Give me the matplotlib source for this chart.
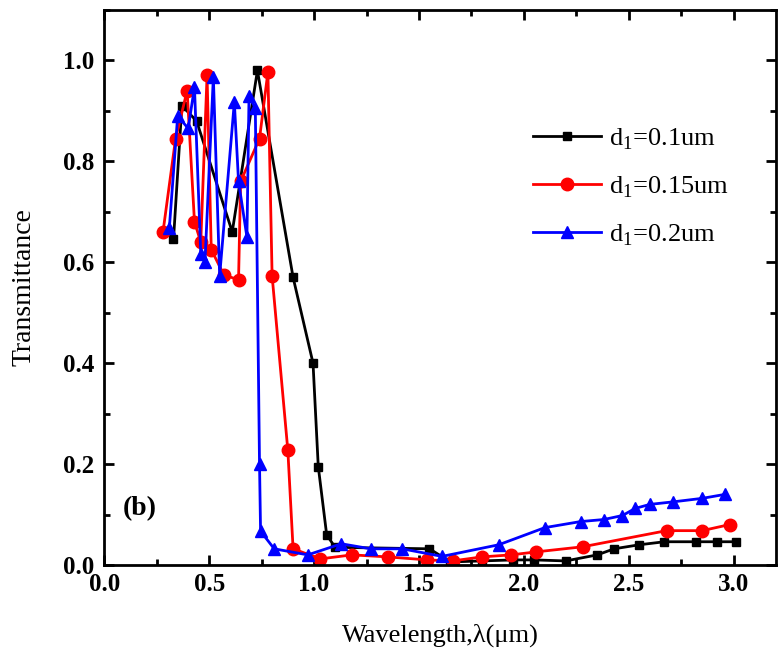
import matplotlib
matplotlib.use("Agg")
import matplotlib.pyplot as plt
from matplotlib.ticker import MultipleLocator

plt.rcParams['font.family'] = ['Liberation Serif', 'DejaVu Serif']
plt.rcParams['mathtext.fontset'] = 'custom'
plt.rcParams['mathtext.rm'] = 'Liberation Serif'

# d1 = 0.1 um (black squares)
x_01 = [0.33, 0.37, 0.44, 0.61, 0.73, 0.90, 0.995, 1.02, 1.06, 1.10, 1.55, 1.65,
        1.80, 1.95, 2.05, 2.20, 2.35, 2.43, 2.55, 2.67, 2.82, 2.92, 3.01]
y_01 = [0.645, 0.91, 0.88, 0.66, 0.98, 0.57, 0.40, 0.195, 0.06, 0.035, 0.032, 0.006,
        0.008, 0.01, 0.01, 0.008, 0.02, 0.032, 0.04, 0.046, 0.046, 0.046, 0.046]

# d1 = 0.15 um (red circles)
x_015 = [0.28, 0.34, 0.395, 0.43, 0.46, 0.49, 0.51, 0.57, 0.64, 0.65, 0.74, 0.78,
         0.80, 0.875, 0.90, 1.03, 1.18, 1.35, 1.54, 1.66, 1.80, 1.94, 2.06, 2.28,
         2.68, 2.85, 2.98]
y_015 = [0.66, 0.845, 0.94, 0.68, 0.64, 0.97, 0.625, 0.575, 0.565, 0.76, 0.845, 0.977,
         0.573, 0.227, 0.032, 0.012, 0.02, 0.016, 0.01, 0.008, 0.016, 0.02, 0.026, 0.036,
         0.068, 0.068, 0.08]

# d1 = 0.2 um (blue triangles)
x_02 = [0.31, 0.35, 0.40, 0.43, 0.46, 0.48, 0.52, 0.55, 0.62, 0.64, 0.68, 0.69,
        0.72, 0.74, 0.745, 0.81, 0.97, 1.13, 1.27, 1.42, 1.61, 1.88, 2.10, 2.27,
        2.38, 2.47, 2.53, 2.60, 2.71, 2.85, 2.96]
y_02 = [0.667, 0.89, 0.865, 0.947, 0.617, 0.60, 0.967, 0.573, 0.917, 0.76, 0.65, 0.93,
        0.905, 0.20, 0.067, 0.032, 0.02, 0.042, 0.032, 0.032, 0.017, 0.04, 0.074, 0.086,
        0.09, 0.098, 0.112, 0.12, 0.125, 0.132, 0.14]

labels = [r'd$_1$=0.1um', r'd$_1$=0.15um', r'd$_1$=0.2um']

fig = plt.figure(figsize=(7.78, 6.6), dpi=100)
ax = fig.add_axes([0.134, 0.144, 0.863, 0.841])

ax.plot(x_01, y_01, color='black', marker='s', markersize=6, lw=2, label=labels[0])
ax.plot(x_015, y_015, color='red', marker='o', markersize=9, lw=2, label=labels[1])
ax.plot(x_02, y_02, color='blue', marker='^', markersize=9, lw=2, label=labels[2])

ax.set_xlim(0, 3.2)
ax.set_ylim(0, 1.1)
ax.xaxis.set_major_locator(MultipleLocator(0.5))
ax.xaxis.set_minor_locator(MultipleLocator(0.25))
ax.yaxis.set_major_locator(MultipleLocator(0.2))
ax.yaxis.set_minor_locator(MultipleLocator(0.1))
ax.tick_params(which='both', direction='in', top=True, right=True, width=2)
ax.tick_params(which='major', length=7, labelsize=18)
ax.tick_params(which='minor', length=4)
ax.tick_params(axis='x', which='major', pad=6)
ax.tick_params(axis='y', which='major', pad=7)
for lab in ax.get_xticklabels() + ax.get_yticklabels():
    lab.set_fontweight('bold')
for sp in ax.spines.values():
    sp.set_linewidth(2)

ax.set_xlabel('Wavelength,λ(μm)', fontsize=19, labelpad=20)
ax.set_ylabel('Transmittance', fontsize=20, labelpad=19)
ax.text(0.028, 0.09, '(b)', transform=ax.transAxes, fontsize=20, fontweight='bold')

ax.legend(loc='upper left', bbox_to_anchor=(0.63, 0.80), frameon=False,
          fontsize=19, handlelength=2.6, handletextpad=0.3, labelspacing=0.85,
          borderaxespad=0, borderpad=0.2)

fig.savefig('out.png', dpi=100)
